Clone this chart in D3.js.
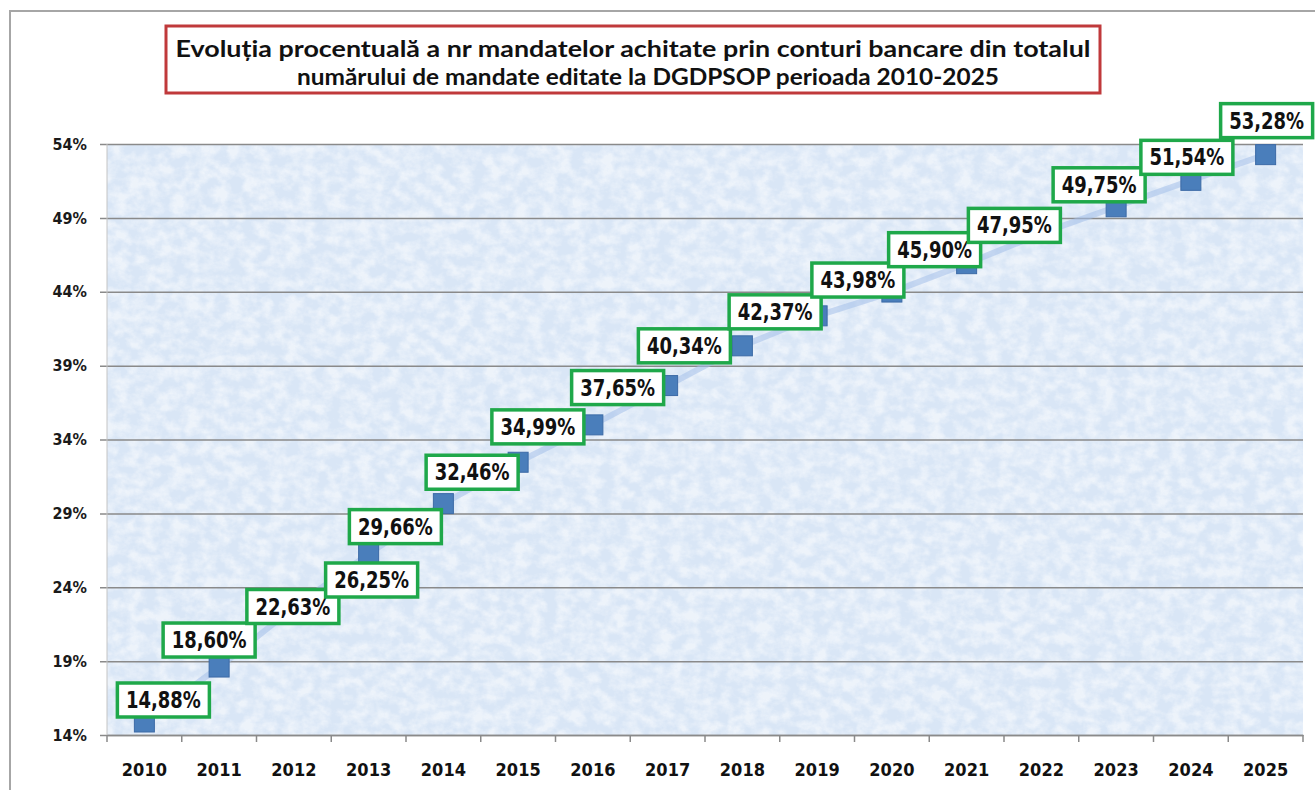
<!DOCTYPE html>
<html>
<head>
<meta charset="utf-8">
<script src="https://cdn.jsdelivr.net/npm/d3@7"></script>
<style>
    body { margin: 0; background: #fff; }
    svg { display: block; }
</style>
</head>
<body>
<div id="chart"></div>
<script>
(function() {
    'use strict';

    var years = ['2010','2011','2012','2013','2014','2015','2016','2017','2018','2019','2020','2021','2022','2023','2024','2025'];
    var percents = [14.88, 18.60, 22.63, 26.25, 29.66, 32.46, 34.99, 37.65, 40.34, 42.37, 43.98, 45.90, 47.95, 49.75, 51.54, 53.28];
    var yTicks = [14, 19, 24, 29, 34, 39, 44, 49, 54];
    var titleLines = [
        'Evoluția procentuală a nr mandatelor achitate prin conturi bancare din totalul',
        'numărului de mandate editate la DGDPSOP perioada 2010-2025'
    ];

    // label boxes were dragged by hand in the original, nudge them the same way (px)
    var labelNudge = [[19,-22],[-10,-27],[-1,-1],[3,26],[-48,23],[-46,10],[-55,2],[-50,2],
                      [-58,0],[-42,-4],[-34,-12],[-32,-14],[-27,-8],[-17,-22],[-4,-23],[1,-34]];

    var width = 1315,
        height = 790,
        plot = {left: 107, right: 1303, top: 144, bottom: 735};

    var labelFont = "'DejaVu Sans Condensed', 'DejaVu Sans', sans-serif";

    var svg = d3.select('#chart').append('svg')
        .attr('width', width)
        .attr('height', height);

    var defs = svg.append('defs');
    var filter = defs.append('filter')
        .attr('id', 'paper')
        .attr('x', 0).attr('y', 0).attr('width', 1).attr('height', 1);
    filter.append('feTurbulence')
        .attr('type', 'fractalNoise')
        .attr('baseFrequency', '0.07 0.09')
        .attr('numOctaves', 4)
        .attr('seed', 3);
    filter.append('feColorMatrix')
        .attr('values', '0 0 0 0 1  0 0 0 0 1  0 0 0 0 1  2.4 0 0 0 -0.8');
    filter.append('feComposite')
        .attr('in2', 'SourceGraphic')
        .attr('operator', 'in');

    // outer frame
    svg.append('rect')
        .attr('x', 10).attr('y', 11)
        .attr('width', width + 20).attr('height', height + 20)
        .attr('fill', 'none')
        .attr('stroke', '#a6a6a6')
        .attr('stroke-width', 2);

    var x = d3.scaleBand()
        .domain(years)
        .range([plot.left, plot.right]);

    var y = d3.scaleLinear()
        .domain([14, 54])
        .range([plot.bottom, plot.top]);

    // plot area texture
    svg.append('rect')
        .attr('x', plot.left).attr('y', plot.top)
        .attr('width', plot.right - plot.left).attr('height', plot.bottom - plot.top)
        .attr('fill', '#d9e6f6');
    svg.append('rect')
        .attr('x', plot.left).attr('y', plot.top)
        .attr('width', plot.right - plot.left).attr('height', plot.bottom - plot.top)
        .attr('fill', '#fff')
        .attr('filter', 'url(#paper)')
        .attr('opacity', 0.55);

    // gridlines + y axis
    var yAxis = d3.axisLeft(y)
        .tickValues(yTicks)
        .tickSize(plot.right - plot.left + 7)
        .tickFormat(function(d) { return d + '%'; });

    var gy = svg.append('g')
        .attr('transform', 'translate(' + plot.right + ',0)')
        .call(yAxis);
    gy.select('.domain').remove();
    gy.selectAll('.tick line')
        .attr('stroke', '#8a8a8a')
        .attr('stroke-width', 1.5);
    gy.selectAll('.tick text')
        .attr('x', -(plot.right - 87))
        .attr('fill', '#1a1a1a')
        .attr('font-family', labelFont)
        .attr('font-weight', 'bold')
        .style('font-size', '16px');

    svg.append('line')
        .attr('x1', plot.left).attr('x2', plot.left)
        .attr('y1', plot.top).attr('y2', plot.bottom)
        .attr('stroke', '#c4c4c4');

    // x axis
    var xAxis = d3.axisBottom(x)
        .tickSize(0)
        .tickPadding(28);

    var gx = svg.append('g')
        .attr('transform', 'translate(0,' + plot.bottom + ')')
        .call(xAxis);
    gx.select('.domain')
        .attr('stroke', '#8a8a8a')
        .attr('stroke-width', 1.5);
    gx.selectAll('.tick text')
        .attr('fill', '#111')
        .attr('font-family', labelFont)
        .attr('font-weight', 'bold')
        .style('font-size', '18px');

    gx.selectAll('.bound')
        .data(years.concat(['end']))
      .enter().append('line')
        .attr('class', 'bound')
        .attr('x1', function(d, i) { return plot.left + i * x.step(); })
        .attr('x2', function(d, i) { return plot.left + i * x.step(); })
        .attr('y1', 0)
        .attr('y2', 7)
        .attr('stroke', '#8a8a8a')
        .attr('stroke-width', 1.5);

    var data = years.map(function(d, i) {
        return {year: d, value: percents[i], nudge: labelNudge[i]};
    });

    var cx = function(d) { return x(d.year) + x.bandwidth() / 2; };

    // faint connecting line
    var line = d3.line()
        .x(cx)
        .y(function(d) { return y(d.value); });

    svg.append('path')
        .datum(data)
        .attr('d', line)
        .attr('fill', 'none')
        .attr('stroke', '#a4c0ea')
        .attr('stroke-opacity', 0.55)
        .attr('stroke-width', 6);

    // markers
    var m = 20;
    svg.selectAll('.marker')
        .data(data)
      .enter().append('rect')
        .attr('class', 'marker')
        .attr('x', function(d) { return cx(d) - m / 2; })
        .attr('y', function(d) { return y(d.value) - m / 2; })
        .attr('width', m)
        .attr('height', m)
        .attr('fill', '#4a7ebb')
        .attr('stroke', '#3c6aa6')
        .attr('stroke-width', 1);

    // value labels
    var bw = 92, bh = 34;
    var lab = svg.selectAll('.lab')
        .data(data)
      .enter().append('g')
        .attr('class', 'lab')
        .attr('transform', function(d) {
            return 'translate(' + (cx(d) + d.nudge[0]) + ',' + (y(d.value) + d.nudge[1]) + ')';
        });

    lab.append('rect')
        .attr('x', -bw / 2)
        .attr('y', -bh / 2)
        .attr('width', bw)
        .attr('height', bh)
        .attr('fill', '#fff')
        .attr('stroke', '#1fa84a')
        .attr('stroke-width', 3.5);

    lab.append('text')
        .attr('text-anchor', 'middle')
        .attr('dy', '.36em')
        .attr('transform', 'scale(1,1.12)')
        .attr('fill', '#111')
        .attr('font-family', labelFont)
        .attr('font-weight', 'bold')
        .style('font-size', '20px')
        .text(function(d) { return d.value.toFixed(2).replace('.', ',') + '%'; });

    // title
    svg.append('rect')
        .attr('x', 166).attr('y', 26)
        .attr('width', 934).attr('height', 67)
        .attr('fill', '#fff')
        .attr('stroke', '#c0393b')
        .attr('stroke-width', 3);

    var lens = [915, 702];
    svg.selectAll('.title')
        .data(titleLines)
      .enter().append('text')
        .attr('class', 'title')
        .attr('x', function(d, i) { return i === 0 ? 633 : 648; })
        .attr('y', function(d, i) { return 57 + i * 28; })
        .attr('text-anchor', 'middle')
        .attr('textLength', function(d, i) { return lens[i]; })
        .attr('lengthAdjust', 'spacingAndGlyphs')
        .attr('fill', '#111')
        .attr('font-family', 'Lato, sans-serif')
        .attr('font-weight', 'bold')
        .style('font-size', '22px')
        .text(function(d) { return d; });
})();
</script>
</body>
</html>
